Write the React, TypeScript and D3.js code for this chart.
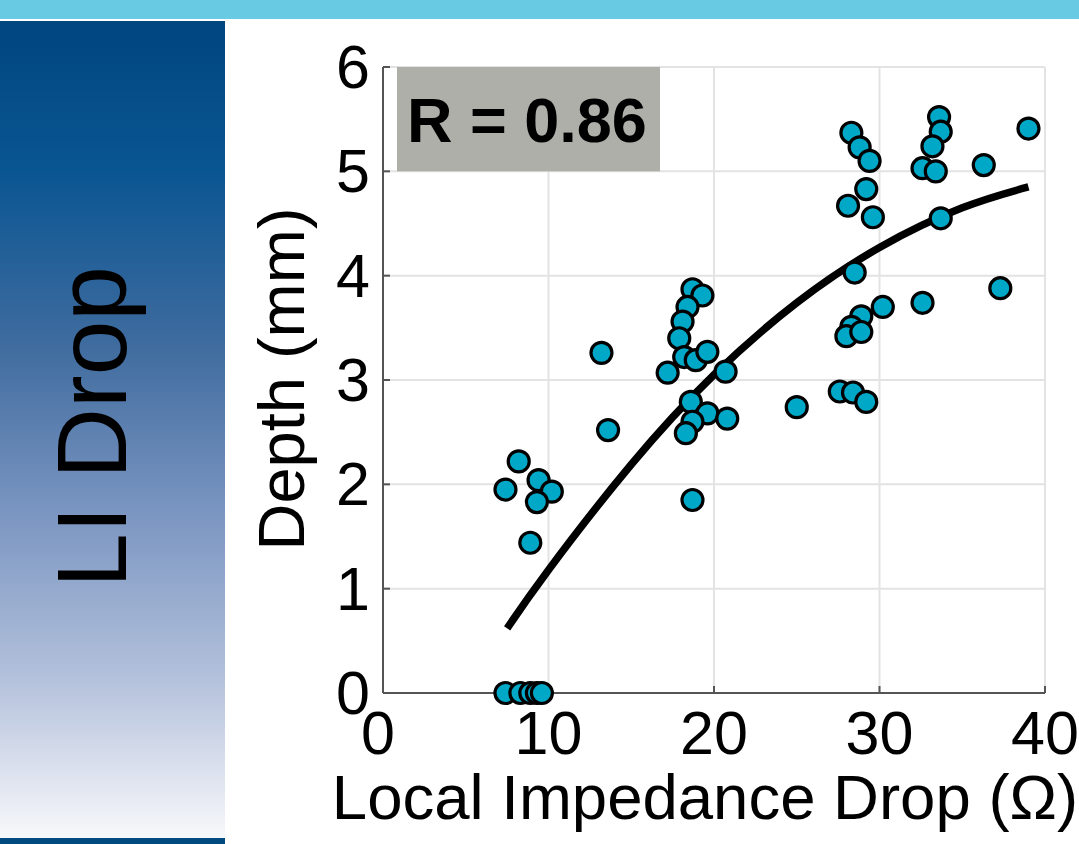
import React from "react";
import * as d3 from "d3";

// measured values (Local impedance drop in ohm, depth in mm)
const dropOhm = [
  7.4, 8.3, 8.9, 9.3, 9.6,
  8.2, 7.4, 9.4, 10.2, 9.3, 8.9,
  13.2, 13.6,
  18.7, 19.3, 18.4, 18.1, 17.9, 18.2, 18.9, 19.6, 17.2, 20.7, 18.6, 19.6, 20.8, 18.7, 18.3, 18.7,
  25.0,
  28.3, 28.8, 29.4, 33.6, 33.7, 33.2, 32.6, 33.4, 39.0, 36.3, 29.2, 28.1, 29.6, 33.7, 28.5,
  37.3, 32.6, 30.2, 28.9, 28.3, 28.0, 28.9, 27.6, 28.4, 29.2,
];
const depthMm = [
  0, 0, 0, 0, 0,
  2.22, 1.95, 2.04, 1.93, 1.83, 1.44,
  3.26, 2.52,
  3.87, 3.81, 3.70, 3.56, 3.40, 3.22, 3.19, 3.27, 3.07, 3.08, 2.79, 2.68, 2.63, 2.60, 2.49, 1.85,
  2.74,
  5.37, 5.23, 5.10, 5.52, 5.38, 5.24, 5.03, 5.00, 5.41, 5.06, 4.83, 4.67, 4.56, 4.55, 4.03,
  3.88, 3.74, 3.70, 3.61, 3.51, 3.42, 3.46, 2.89, 2.88, 2.79,
];

// fitted curve
const fitX = [7.5, 10, 15, 20, 25, 30, 35, 39];
const fitY = [0.62, 1.18, 2.19, 3.05, 3.74, 4.27, 4.65, 4.85];

const xTicks = [0, 10, 20, 30, 40];
const yTicks = [0, 1, 2, 3, 4, 5, 6];

const W = 1079;
const H = 844;
const font = "'Liberation Sans', Arial, sans-serif";

export default function App() {
  const x = d3.scaleLinear().domain([0, 40]).range([383, 1045]);
  const y = d3.scaleLinear().domain([0, 6]).range([693, 67]);

  const pts = dropOhm.map((d, i) => ({ x: d, y: depthMm[i] }));
  const fit = fitX.map((d, i) => [d, fitY[i]] as [number, number]);
  const line = d3
    .line<[number, number]>()
    .x((d) => x(d[0]))
    .y((d) => y(d[1]))
    .curve(d3.curveNatural);

  return (
    <div style={{ position: "absolute", left: 0, top: 0 }}>
      <svg width={W} height={H} style={{ display: "block", background: "#fff" }}>
        <defs>
          <linearGradient id="panel" x1="0" y1="0" x2="0" y2="1">
            <stop offset="0%" stopColor="#00467F" />
            <stop offset="18%" stopColor="#095592" />
            <stop offset="40%" stopColor="#406C9F" />
            <stop offset="60%" stopColor="#7A95C1" />
            <stop offset="80%" stopColor="#B2C0DB" />
            <stop offset="94%" stopColor="#E3E7F1" />
            <stop offset="100%" stopColor="#F7F8FB" />
          </linearGradient>
        </defs>

        {/* slide decoration */}
        <rect x={0} y={0} width={W} height={19} fill="#68CBE3" />
        <rect x={0} y={21} width={225} height={817} fill="url(#panel)" />
        <rect x={0} y={838} width={225} height={6} fill="#004A80" />
        <text
          transform="translate(126,427) rotate(-90)"
          textAnchor="middle"
          fontFamily={font}
          fontSize={98}
          fill="#000"
        >
          LI Drop
        </text>

        {/* grid */}
        <g stroke="#E3E3E3" strokeWidth={2}>
          {xTicks.slice(1).map((t) => (
            <line key={"gx" + t} x1={x(t)} x2={x(t)} y1={y(0)} y2={y(6)} />
          ))}
          {yTicks.slice(1).map((t) => (
            <line key={"gy" + t} x1={x(0)} x2={x(40)} y1={y(t)} y2={y(t)} />
          ))}
        </g>

        {/* R box */}
        <rect x={397} y={y(6)} width={263} height={y(5) - y(6)} fill="#AEAFA9" />
        <text x={407} y={142} fontFamily={font} fontWeight="bold" fontSize={63} fill="#000">
          R = 0.86
        </text>

        {/* axes */}
        <g stroke="#555" strokeWidth={2}>
          <line x1={x(0)} x2={x(0)} y1={y(6)} y2={y(0)} />
          <line x1={x(0)} x2={x(40)} y1={y(0)} y2={y(0)} />
          {yTicks.map((t) => (
            <line key={"ty" + t} x1={x(0)} x2={x(0) + 7} y1={y(t)} y2={y(t)} />
          ))}
          {xTicks.map((t) => (
            <line key={"tx" + t} x1={x(t)} x2={x(t)} y1={y(0)} y2={y(0) - 7} />
          ))}
        </g>

        {/* fit */}
        <path d={line(fit) || ""} fill="none" stroke="#000" strokeWidth={7.5} />

        {/* points */}
        <g>
          {pts.map((p, i) => (
            <circle
              key={i}
              cx={x(p.x)}
              cy={y(p.y)}
              r={10.5}
              fill="#00A8C8"
              stroke="#000"
              strokeWidth={3.2}
            />
          ))}
        </g>

        {/* tick labels */}
        <g fontFamily={font} fontSize={61} fill="#000">
          {yTicks.map((t) => (
            <text key={"ly" + t} x={370} y={y(t) + 21} textAnchor="end">
              {t}
            </text>
          ))}
          {xTicks.map((t) => (
            <text key={"lx" + t} x={x(t) - (t === 0 ? 5 : 0)} y={754} textAnchor="middle">
              {t}
            </text>
          ))}
        </g>

        {/* axis titles */}
        <text
          transform="translate(304,379) rotate(-90)"
          textAnchor="middle"
          fontFamily={font}
          fontSize={65}
          fill="#000"
        >
          Depth (mm)
        </text>
        <text x={705} y={819} textAnchor="middle" fontFamily={font} fontSize={63.5} fill="#000">
          Local Impedance Drop (Ω)
        </text>
      </svg>
    </div>
  );
}
